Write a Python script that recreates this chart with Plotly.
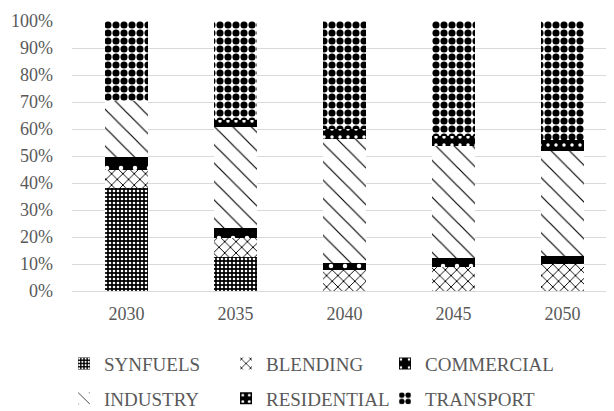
import plotly.graph_objects as go

years = ["2030", "2035", "2040", "2045", "2050"]

synfuels = [38.0, 12.6, 0.0, 0.0, 0.0]
blending = [7.0, 7.1, 7.7, 8.9, 9.9]
commercial = [4.6, 3.8, 2.8, 3.2, 3.1]
industry = [20.8, 37.2, 45.7, 41.6, 38.9]
residential = [0.0, 2.5, 3.7, 3.7, 3.9]
transport = [29.6, 36.8, 40.1, 42.6, 44.2]

TEXT_COLOR = "#595959"
FONT = "Liberation Serif"

# name, values, pattern shape, fg, bg, size, solidity
series = [
    ("SYNFUELS", synfuels, ".", "white", "black", 4, 0.35),
    ("BLENDING", blending, "x", "black", "white", 8, 0.22),
    ("COMMERCIAL", commercial, ".", "white", "black", 14, 0.08),
    ("INDUSTRY", industry, "\\", "black", "white", 13, 0.09),
    ("RESIDENTIAL", residential, ".", "white", "black", 8, 0.15),
    ("TRANSPORT", transport, ".", "black", "white", 8, 0.62),
]

# one legend per entry so the 3x2 grid sits where the reference has it
legend_x = [-0.0147, 0.2826, 0.5743]
legend_y = [-0.269, -0.398]

fig = go.Figure()
legends = {}

for i, (name, vals, shape, fg, bg, size, solid) in enumerate(series):
    key = "legend" if i == 0 else f"legend{i + 1}"
    fig.add_trace(
        go.Bar(
            x=years,
            y=vals,
            name=name,
            legend=key,
            marker=dict(
                color=bg,
                line=dict(width=0),
                pattern=dict(
                    shape=shape,
                    fgcolor=fg,
                    bgcolor=bg,
                    size=size,
                    solidity=solid,
                    fillmode="replace",
                ),
            ),
        )
    )
    legends[key] = dict(
        orientation="v",
        xanchor="left",
        yanchor="middle",
        x=legend_x[i % 3],
        y=legend_y[i // 3],
        font=dict(family=FONT, size=19, color=TEXT_COLOR),
        bgcolor="rgba(0,0,0,0)",
    )

fig.update_layout(
    width=614,
    height=411,
    margin=dict(l=64, r=5, t=13, b=128, autoexpand=False),
    paper_bgcolor="white",
    plot_bgcolor="white",
    barmode="stack",
    barnorm="percent",
    bargap=0.605,
    font=dict(family=FONT, size=18, color=TEXT_COLOR),
    showlegend=True,
    **legends,
)

fig.update_xaxes(
    type="category",
    range=[-0.5, 4.5],
    showgrid=False,
    showline=False,
    ticks="",
    ticklabelstandoff=10,
    tickfont=dict(family=FONT, size=18, color=TEXT_COLOR),
)

fig.update_yaxes(
    range=[0, 100],
    dtick=10,
    ticksuffix="%",
    showgrid=True,
    gridcolor="#d9d9d9",
    gridwidth=1,
    zeroline=True,
    zerolinecolor="#d9d9d9",
    zerolinewidth=1,
    showline=False,
    ticks="",
    ticklabelstandoff=18,
    tickfont=dict(family=FONT, size=18, color=TEXT_COLOR),
)

fig.write_html("out.html")
